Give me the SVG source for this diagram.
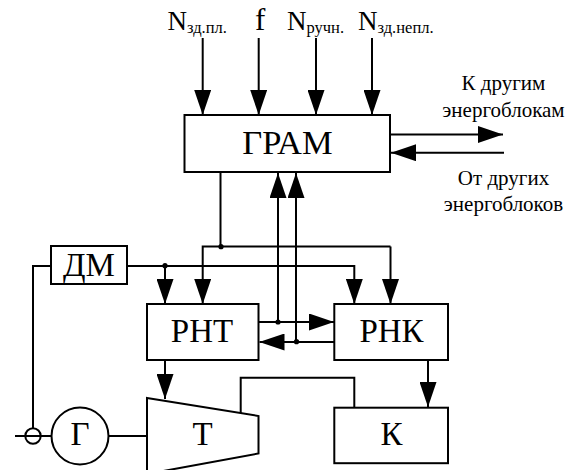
<svg xmlns="http://www.w3.org/2000/svg" width="572" height="470" viewBox="0 0 572 470">
<style>
.s{fill:none;stroke:#000;stroke-width:2}
.b{fill:#fff;stroke:#000;stroke-width:2}
text{font-family:"Liberation Serif","Times New Roman",serif;fill:#000}
.l{font-size:33px;text-anchor:middle}
.n{font-size:27px}
.u{font-size:16.5px}
.c{font-size:21px;text-anchor:middle}
</style>
<defs>
<marker id="a" markerUnits="userSpaceOnUse" viewBox="0 0 25 17" markerWidth="25" markerHeight="17" refX="25" refY="8.5" orient="auto"><path d="M0 0L25 8.5L0 17Z" fill="#000"/></marker>
</defs>
<g id="connectors" class="s">
<path class="s" marker-end="url(#a)" d="M202.7 38V115"/>
<path class="s" marker-end="url(#a)" d="M258.7 38V115"/>
<path class="s" marker-end="url(#a)" d="M316 38V115"/>
<path class="s" marker-end="url(#a)" d="M372 38V115"/>
<path class="s" marker-end="url(#a)" d="M390 134.5H503"/>
<path class="s" marker-end="url(#a)" d="M504 152.7H391"/>
<path class="s" d="M220.5 172V246.5"/>
<path class="s" marker-end="url(#a)" d="M390.5 246.5H202.7V304"/>
<path class="s" marker-end="url(#a)" d="M390.5 246.5V304"/>
<path class="s" marker-end="url(#a)" d="M127 266H354.3V304"/>
<path class="s" marker-end="url(#a)" d="M165 266V304"/>
<path class="s" d="M51 266H33V428"/>
<path class="s" d="M15 436H52M109 436H147"/>
<path class="s" marker-end="url(#a)" d="M278 322V173"/>
<path class="s" marker-end="url(#a)" d="M296 342V173"/>
<path class="s" marker-end="url(#a)" d="M258.5 322H334"/>
<path class="s" marker-end="url(#a)" d="M334 342H259.5"/>
<path class="s" marker-end="url(#a)" d="M165 360V399"/>
<path class="s" marker-end="url(#a)" d="M428 360V407"/>
<path class="s" d="M240.7 413V377.7H354.3V407.7"/>
<g fill="#000" stroke="none">
<circle cx="221" cy="246.7" r="2.6"/><circle cx="165" cy="265.7" r="2.6"/><circle cx="278" cy="322" r="2.6"/><circle cx="296.5" cy="341.7" r="2.6"/>
</g>
</g>
<g id="gram"><rect class="b" x="184.5" y="115" width="205.5" height="57"/><text class="l" style="font-size:34.5px" x="287.5" y="154">ГРАМ</text></g>
<g id="dm"><rect class="b" x="51" y="246" width="76" height="38"/><text class="l" x="89" y="275.5">ДМ</text></g>
<g id="rnt"><rect class="b" x="147" y="304" width="111.5" height="56"/><text class="l" x="202" y="341.5">РНТ</text></g>
<g id="rnk"><rect class="b" x="334.3" y="304" width="113.7" height="56"/><text class="l" x="391.5" y="341.5">РНК</text></g>
<g id="k"><rect class="b" x="334.3" y="407.7" width="113.7" height="55.5"/><text class="l" x="391.5" y="445">К</text></g>
<g id="t"><path class="b" d="M147 398L258.5 416V453.5L147 474Z"/><text class="l" x="202.5" y="445">Т</text></g>
<g id="g"><circle class="b" cx="80" cy="436" r="28.5"/><text class="l" x="80" y="445">Г</text></g>
<g id="sum"><circle class="s" cx="33" cy="436" r="7.7"/></g>
<g id="labels">
<text x="167.5" y="30" class="n">N<tspan class="u" dy="3">зд.пл.</tspan></text>
<text x="255" y="30" style="font-size:31px">f</text>
<text x="287" y="30" class="n">N<tspan class="u" dy="3">ручн.</tspan></text>
<text x="358" y="30" class="n">N<tspan class="u" dy="3">зд.непл.</tspan></text>
<text class="c" x="503.5" y="90">К другим</text>
<text class="c" x="503.5" y="117">энергоблокам</text>
<text class="c" x="503.5" y="184.5">От других</text>
<text class="c" x="503.5" y="211">энергоблоков</text>
</g>
</svg>
